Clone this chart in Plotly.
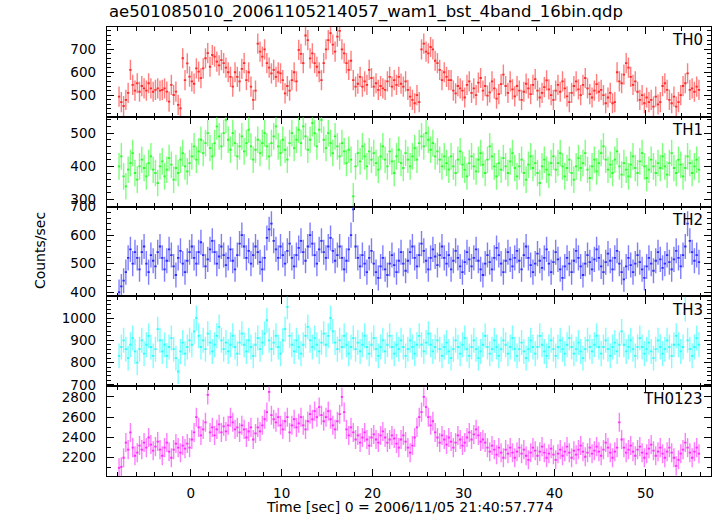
import plotly.graph_objects as go
from plotly.subplots import make_subplots

# ---------------- data ----------------
t_start = -8.0      # first bin edge [sec]
bin_w = 0.25        # bin width [sec]
n_bins = 256
time = [t_start + bin_w * (i + 0.5) for i in range(n_bins)]

th0 = [494, 470, 453, 480, 510, 610, 545, 520, 552, 515, 540, 530, 520, 552, 530, 515, 523, 530, 520, 523, 530,
       516, 472, 545, 501, 516, 458, 443, 661, 566, 639, 581, 560, 550, 617, 603, 574, 617, 661, 683, 624, 675, 668, 646, 630,
       653, 640, 620, 600, 580, 537, 600, 580, 560, 615, 640, 566, 600, 537, 480, 520, 725, 690, 668, 700, 640, 620,
       595, 610, 580, 600, 595, 566, 508, 540, 520, 566, 600, 560, 697, 680, 640, 760, 740, 660, 682, 640, 624, 600, 566,
       640, 700, 740, 770, 720, 690, 755,
       780, 700, 682, 640, 610, 650, 566, 537, 550, 580, 537, 560, 545, 610, 575, 537, 552, 523, 540, 530, 523,
       560, 580, 537, 566, 545, 580, 550, 537, 560, 523, 494, 480, 465, 500, 470, 700, 725, 690, 682, 710, 700, 650,
       640, 610, 566, 600, 580, 566, 566, 520, 508, 540, 530,
       520, 490, 545, 560, 510, 530, 500, 555, 575, 520, 540, 498, 512, 560, 530, 485, 505, 548, 590, 540,
       510, 560, 525, 495, 540, 520, 480, 515, 550, 530, 505, 545, 570, 520, 490, 510, 535, 565, 525, 500,
       480, 520, 545, 515, 560, 530, 495, 470, 510, 540, 560, 525, 500, 545, 575, 530, 505, 490, 520, 548, 515,
       523, 500, 465, 490, 510, 465, 470, 600, 560, 552, 590, 640, 620, 580, 545, 560, 515, 480, 500, 465, 490,
       470, 480, 450, 494, 460, 470, 540, 552, 523, 480, 465, 494, 450, 470, 500, 540, 552, 595, 523, 530, 515, 537, 523]

th1 = [400, 430, 370, 340, 390, 410, 440, 380, 360, 400, 420, 395, 370, 410, 430, 390,
       380, 350, 400, 415, 370, 390, 425, 405, 360, 395, 380, 420, 440, 400, 385, 410,
       430, 460, 420, 445, 480, 440, 470, 500, 455, 430, 470, 520, 490, 460, 500, 540,
       480, 450, 500, 470, 430, 460, 490, 445, 470, 510, 460, 420, 450, 480, 440, 470,
       500, 460, 430, 470, 490, 520, 460, 440, 480, 450, 420, 470, 500, 455, 480, 510,
       470, 520, 490, 450, 480, 530, 500, 460, 510, 540, 480, 455, 500, 470, 440, 490,
       460, 430, 470, 445, 410, 450, 420, 310, 400, 440, 415, 460, 430, 400, 445, 420,
       440, 410, 390, 430, 460, 420, 400, 445, 415, 380, 430, 450, 410, 395, 440, 420,
       400, 430, 455, 420, 470, 490, 460, 500, 480, 450, 470, 430, 445, 420, 400, 430,
       410, 390, 430, 400, 380, 420, 445, 405, 390, 370, 410, 430, 400, 385, 420, 440,
       405, 380, 420, 460, 430, 400, 370, 410, 390, 425, 400, 380, 415, 440, 395, 370,
       400, 420, 380, 360, 405, 430, 395, 410, 380, 350, 400, 420, 390, 375, 410, 430,
       390, 410, 440, 400, 370, 395, 420, 380, 360, 400, 425, 395, 410, 440, 390, 365,
       400, 420, 385, 410, 440, 460, 420, 390, 405, 380, 420, 445, 400, 375, 410, 390,
       370, 405, 430, 395, 380, 415, 440, 400, 365, 390, 420, 400, 380, 410, 395, 430,
       400, 375, 410, 440, 395, 380, 420, 405, 370, 395, 430, 410, 380, 400, 420, 390]

th2 = [400, 420, 440, 470, 520, 550, 500, 540, 520, 480, 540, 560, 500, 470, 530, 510,
       490, 540, 560, 520, 480, 510, 550, 530, 490, 460, 520, 545, 500, 470, 510, 540,
       560, 520, 500, 540, 575, 530, 490, 515, 550, 580, 540, 500, 525, 560, 530, 495,
       520, 550, 510, 480, 530, 570, 600, 560, 520, 545, 500, 530, 560, 540, 505, 480,
       520, 590, 620, 640, 580, 550, 520, 560, 530, 500, 545, 570, 520, 490, 530, 555,
       580, 540, 510, 560, 600, 570, 530, 500, 550, 580, 540, 520, 560, 590, 545, 510,
       530, 560, 520, 480, 510, 550, 600, 690, 560, 520, 490, 530, 500, 470, 520, 545,
       500, 470, 450, 490, 520, 480, 460, 500, 530, 495, 470, 510, 540, 500, 475, 510,
       540, 560, 520, 490, 530, 570, 545, 510, 480, 520, 550, 525, 495, 530, 560, 520,
       500, 530, 480, 510, 545, 520, 490, 470, 505, 540, 515, 490, 520, 550, 510, 480,
       460, 500, 530, 505, 480, 520, 555, 530, 500, 470, 510, 540, 515, 490, 520, 545,
       510, 480, 530, 560, 520, 495, 470, 500, 535, 510, 485, 520, 550, 500, 470, 505,
       540, 515, 480, 450, 490, 520, 500, 470, 510, 545, 520, 490, 460, 500, 530, 505,
       480, 515, 550, 520, 490, 470, 505, 535, 510, 480, 520, 545, 500, 470, 445, 490,
       520, 495, 470, 500, 530, 505, 480, 450, 490, 520, 500, 475, 510, 540, 515, 485,
       500, 530, 505, 480, 515, 545, 520, 490, 530, 560, 640, 580, 540, 510, 530, 505]

th3 = [830, 870, 900, 860, 820, 880, 910, 850, 800, 860, 900, 840, 880, 920, 870, 830,
       860, 950, 900, 850, 880, 830, 870, 910, 860, 820, 760, 850, 890, 840, 870, 900,
       880, 940, 1000, 920, 870, 900, 860, 930, 890, 850, 880, 920, 960, 900, 860, 890,
       850, 880, 920, 870, 840, 890, 930, 880, 850, 900, 870, 830, 880, 910, 860, 890,
       930, 990, 900, 860, 890, 920, 870, 840, 900, 950, 1050, 920, 880, 850, 900, 870,
       840, 880, 920, 960, 900, 870, 910, 880, 850, 890, 930, 880, 920, 1000, 940, 890,
       860, 900, 870, 920, 880, 840, 870, 910, 860, 890, 850, 880, 920, 870, 840, 880,
       910, 860, 830, 870, 900, 850, 880, 920, 870, 840, 880, 860, 900, 870, 830, 860,
       900, 870, 840, 880, 920, 880, 850, 890, 930, 880, 850, 870, 900, 860, 830, 870,
       890, 850, 820, 860, 900, 870, 840, 880, 910, 860, 830, 870, 900, 860, 820, 850,
       880, 920, 870, 840, 860, 900, 870, 830, 860, 900, 880, 840, 870, 910, 860, 830,
       860, 890, 850, 820, 860, 900, 870, 840, 870, 920, 880, 850, 830, 870, 900, 860,
       830, 870, 900, 860, 840, 880, 910, 870, 840, 860, 890, 850, 820, 860, 900, 870,
       850, 880, 920, 870, 840, 870, 900, 860, 830, 870, 890, 850, 880, 940, 880, 850,
       870, 900, 860, 830, 870, 910, 870, 840, 860, 890, 850, 820, 860, 900, 870, 840,
       860, 900, 870, 830, 880, 920, 880, 850, 870, 1040, 900, 860, 830, 870, 910, 880]

th0123 = [2100, 2110, 2200, 2350, 2280, 2450, 2300, 2220, 2250, 2320, 2280, 2350, 2300, 2400, 2330, 2270,
          2310, 2360, 2280, 2220, 2300, 2350, 2260, 2200, 2280, 2340, 2300, 2250, 2320, 2290, 2340, 2300,
          2380, 2450, 2600, 2500, 2420, 2480, 2550, 2820, 2450, 2500, 2420, 2480, 2530, 2450, 2510, 2460,
          2520, 2600, 2550, 2480, 2500, 2450, 2520, 2480, 2400, 2460, 2500, 2380, 2440, 2500, 2460, 2520,
          2580, 2650, 2850, 2620, 2580, 2550, 2600, 2520, 2480, 2560, 2600, 2450, 2520, 2580, 2500, 2540,
          2600, 2520, 2480, 2560, 2630, 2580, 2660, 2600, 2700, 2620, 2560, 2600, 2660, 2580, 2520, 2480,
          2560, 2630, 2800, 2650, 2480, 2420, 2500, 2450, 2380, 2420, 2350, 2400, 2450, 2380, 2320, 2400,
          2430, 2380, 2350, 2420, 2460, 2400, 2350, 2380, 2420, 2390, 2340, 2300, 2380, 2420, 2360, 2300,
          2250, 2320, 2400, 2500, 2600, 2650, 2800, 2700, 2600, 2520, 2560, 2450, 2400, 2350, 2420, 2380,
          2330, 2400, 2360, 2300, 2350, 2420, 2380, 2320, 2350, 2400, 2450, 2380, 2430, 2480, 2420, 2360,
          2380, 2350, 2300, 2260, 2320, 2280, 2230, 2300, 2250, 2200, 2280, 2240, 2300, 2250, 2200, 2260,
          2300, 2240, 2280, 2220, 2180, 2250, 2300, 2270, 2220, 2260, 2310, 2250, 2200, 2240, 2290, 2230,
          2180, 2240, 2280, 2220, 2260, 2310, 2250, 2200, 2270, 2230, 2280, 2320, 2260, 2210, 2250, 2300,
          2240, 2270, 2310, 2260, 2220, 2280, 2350, 2300, 2250, 2200, 2260, 2300, 2550, 2380, 2300, 2250,
          2280, 2320, 2260, 2220, 2280, 2310, 2250, 2200, 2240, 2290, 2330, 2270, 2220, 2260, 2300, 2240,
          2200, 2260, 2300, 2250, 2200, 2120, 2180, 2240, 2280, 2350, 2300, 2250, 2200, 2260, 2300, 2240]

# typical 1-sigma error bar per band (counts/sec)
err_th0 = 44
err_th1 = 40
err_th2 = 44
err_th3 = 56
err_th0123 = 94

band_names = ["TH0", "TH1", "TH2", "TH3", "TH0123"]
band_values = [th0, th1, th2, th3, th0123]
band_errors = [err_th0, err_th1, err_th2, err_th3, err_th0123]

# ---------------- styling ----------------
colors = ["#ff2a2a", "#2aff2a", "#2a2aff", "#2affff", "#ff2aff"]
bar_colors = ["rgba(255,40,40,0.6)", "rgba(40,255,40,0.6)", "rgba(40,40,255,0.6)",
              "rgba(40,255,255,0.6)", "rgba(255,40,255,0.6)"]
y_ranges = [[406, 797], [279, 549], [385, 700], [694, 1097], [2020, 2906]]
y_dtick = [100, 100, 100, 100, 200]
y_minor = [20, 20, 20, 20, 100]
FONT = "DejaVu Sans, Verdana, sans-serif"

fig = make_subplots(rows=5, cols=1, shared_xaxes=True, vertical_spacing=0)

for k in range(5):
    fig.add_trace(go.Scatter(
        x=time, y=band_values[k], mode="markers",
        marker=dict(size=0.1, color=colors[k], opacity=0),
        error_x=dict(type="constant", value=bin_w / 2, width=0, thickness=1.8, color=colors[k]),
        error_y=dict(type="constant", value=band_errors[k], width=0, thickness=1.4, color=bar_colors[k]),
        showlegend=False, hoverinfo="skip"), row=k + 1, col=1)

axis_common = dict(showline=True, linecolor="black", linewidth=1.3, mirror="allticks",
                   ticks="inside", ticklen=7, tickwidth=1, tickcolor="black",
                   showgrid=False, zeroline=False,
                   tickfont=dict(family=FONT, size=13.5, color="black"))

for k in range(5):
    fig.update_yaxes(range=y_ranges[k], dtick=y_dtick[k], tick0=0,
                     minor=dict(dtick=y_minor[k], ticks="inside", ticklen=3.5, tickcolor="black", showgrid=False),
                     ticklabelstandoff=7,
                     **axis_common, row=k + 1, col=1)
    fig.update_xaxes(range=[-9.2, 57.2], dtick=10, tick0=0,
                     minor=dict(dtick=2, ticks="inside", ticklen=3.5, tickcolor="black", showgrid=False),
                     showticklabels=(k == 4), ticklabelstandoff=5,
                     **axis_common, row=k + 1, col=1)

annotations = []
for k in range(5):
    axname = "y" if k == 0 else f"y{k + 1}"
    annotations.append(dict(text=band_names[k], xref="x domain", yref=axname + " domain",
                            x=0.99, y=0.975, xanchor="right", yanchor="top", showarrow=False,
                            font=dict(family=FONT, size=15, color="black")))

annotations.append(dict(text="ae501085010_20061105214057_wam1_bst_4band_16bin.qdp",
                        xref="paper", yref="paper", x=0, y=1.033, xanchor="left", yanchor="middle",
                        showarrow=False, font=dict(family=FONT, size=16.5, color="black")))
annotations.append(dict(text="Counts/sec", xref="paper", yref="paper", x=-0.111, y=0.503,
                        xanchor="center", yanchor="middle", textangle=-90, showarrow=False,
                        font=dict(family=FONT, size=14, color="black")))
annotations.append(dict(text="Time [sec] 0 = 2006/11/05 21:40:57.774", xref="paper", yref="paper",
                        x=0.502, y=-0.069, xanchor="center", yanchor="middle", showarrow=False,
                        font=dict(family=FONT, size=14, color="black")))

fig.update_layout(width=717, height=516, margin=dict(l=107, r=6, t=27, b=40),
                  paper_bgcolor="white", plot_bgcolor="white", annotations=annotations,
                  font=dict(family=FONT))

fig.write_html("out.html", config={"displayModeBar": False},
               post_script="document.body.style.margin='0';document.body.style.overflow='hidden';")
